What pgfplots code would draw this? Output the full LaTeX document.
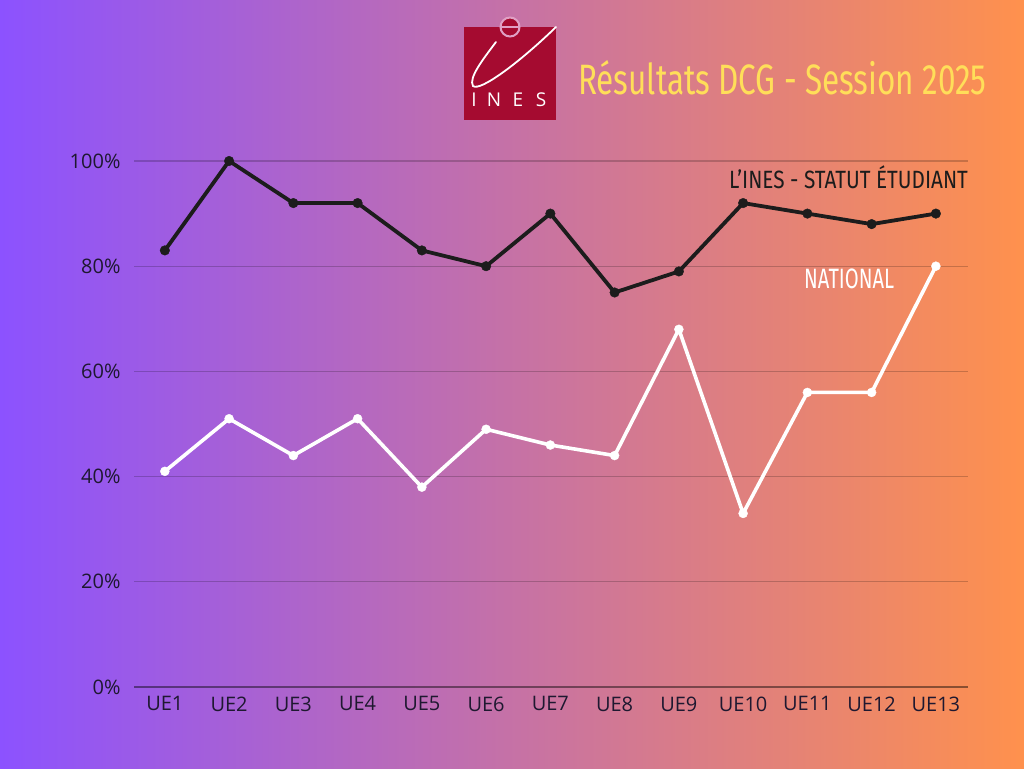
\documentclass[border=0pt]{standalone}
\usepackage{pgfplots}
\pgfplotsset{compat=1.18}
\usepackage{fontspec}
\setmainfont{Open Sans}
\newfontfamily\condfont[FakeStretch=0.74]{Fira Sans}
\newfontfamily\condfontB[FakeStretch=0.83]{Fira Sans}
\newfontfamily\condfontC[FakeStretch=0.72]{Fira Sans}
\definecolor{bgL}{HTML}{8C52FF}
\definecolor{bgR}{HTML}{FF914D}
\definecolor{titleY}{HTML}{FFDE59}
\definecolor{logoR}{HTML}{A50B30}
\definecolor{lineK}{HTML}{1C1C1C}
\definecolor{tickC}{HTML}{1E1830}
\definecolor{ringP}{HTML}{E0A0C4}
\begin{document}
\begin{tikzpicture}[x=1pt,y=1pt]
\shade[left color=bgL, right color=bgR] (0,0) rectangle (1024,768);
\useasboundingbox (0,0) rectangle (1024,768);
% logo
\fill[logoR] (464,768-27) rectangle (556,768-120);
\draw[white, line width=1.8pt, line cap=round] (496,768-42) .. controls (484,768-58) and (468,768-78) .. (473,768-86) .. controls (480,768-92) and (520,768-62) .. (556,768-27);
\draw[ringP, fill=logoR, line width=2pt] (510,768-27) circle (9.5);
\draw[ringP, line width=1.5pt] (501,768-27) -- (519,768-27);
\foreach \c/\xx in {I/474,N/494,E/518,S/541}{
  \node[white, anchor=base, inner sep=0pt, font=\fontsize{19}{20}\selectfont] at (\xx,768-107) {\c};
}
% title
\node[titleY, anchor=base west, inner sep=0pt, font=\condfont\fontsize{42.5}{44}\selectfont] at (578,768-95) {Résultats DCG - Session 2025};
\begin{axis}[
  at={(134pt,81pt)}, anchor=south west,
  scale only axis, width=834pt, height=526pt,
  xmin=0.52, xmax=13.5, ymin=0, ymax=100,
  clip=false,
  axis line style={draw=none},
  ytick={0,20,40,60,80,100},
  yticklabels={0\%,20\%,40\%,60\%,80\%,100\%},
  xtick={1,...,13},
  xticklabels={UE1,UE2,UE3,UE4,UE5,UE6,UE7,UE8,UE9,UE10,UE11,UE12,UE13},
  major tick length=0pt,
  ymajorgrids,
  major grid style={draw=black, opacity=0.2, line width=1.3pt},
  tick label style={text=tickC, font=\fontsize{20}{21}\selectfont},
  y tick label style={xshift=-10pt},
  x tick label style={yshift=-6pt},
]
\draw[black, opacity=0.3, line width=1.6pt] (axis cs:0.52,0) -- (axis cs:13.5,0);
\addplot[lineK, line width=3.8pt, mark=*, mark size=4.8pt, mark options={fill=lineK, draw=lineK, line width=0.4pt}] coordinates {
(1,83) (2,100) (3,92) (4,92) (5,83) (6,80) (7,90) (8,75) (9,79) (10,92) (11,90) (12,88) (13,90)};
\addplot[white, line width=3.6pt, mark=*, mark size=4.5pt, mark options={fill=white, draw=white, line width=0.4pt}] coordinates {
(1,41) (2,51) (3,44) (4,51) (5,38) (6,49) (7,46) (8,44) (9,68) (10,33) (11,56) (12,56) (13,80)};
\end{axis}
\node[lineK, anchor=base west, inner sep=0pt, font=\condfontB\fontsize{25}{27}\selectfont] at (729,768-189) {L’INES - STATUT ÉTUDIANT};
\node[white, anchor=base west, inner sep=0pt, font=\condfontC\fontsize{28}{30}\selectfont] at (804,768-289) {NATIONAL};
\end{tikzpicture}
\end{document}
